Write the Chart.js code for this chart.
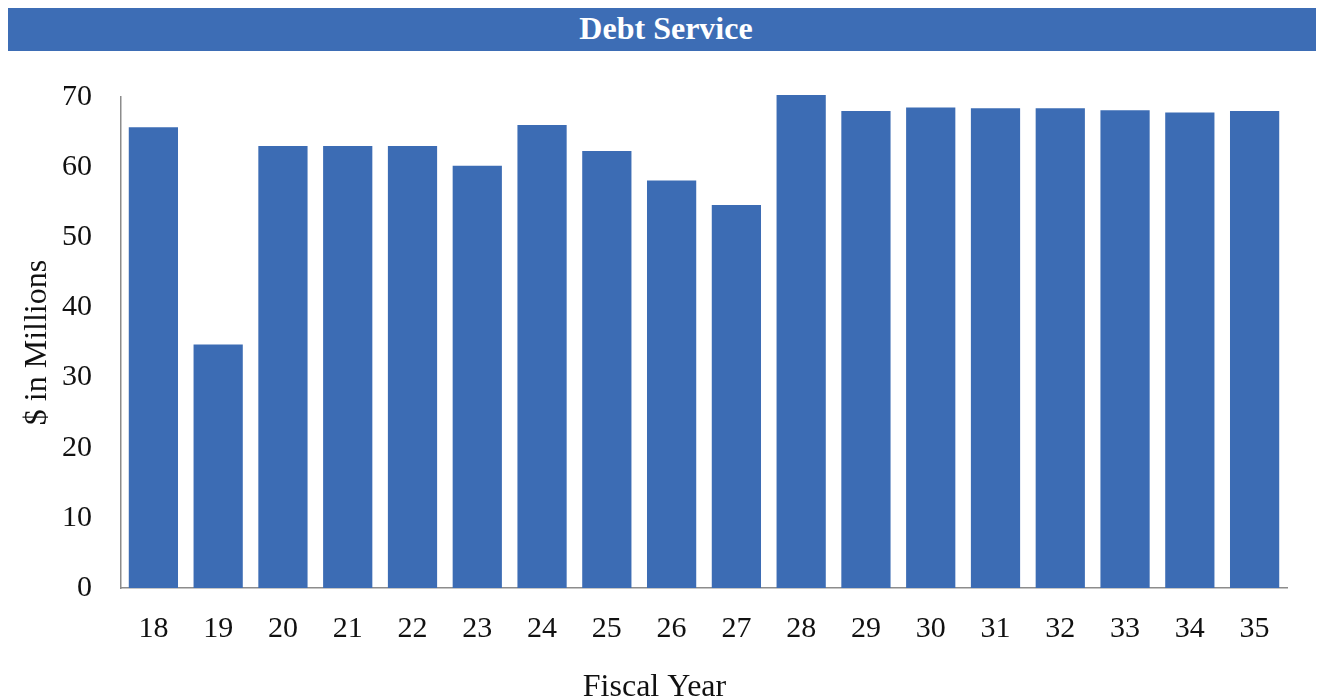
<!DOCTYPE html>
<html>
<head>
<meta charset="utf-8">
<script src="https://cdn.jsdelivr.net/npm/chart.js@4.4.0/dist/chart.umd.min.js"></script>
<style>
  html, body { margin: 0; padding: 0; background: #fff; overflow: hidden; }
  body { width: 1324px; height: 700px; position: relative; }
  #titleBar {
    position: absolute; left: 8px; top: 8px; width: 1308px; height: 43px;
    background: #3d6db5; color: #fff;
    font: bold 32px "Liberation Serif", "DejaVu Serif", serif;
    text-align: center; line-height: 41px; box-sizing: border-box; padding-left: 8px;
  }
  #chartBox { position: absolute; left: 0; top: 0; width: 1324px; height: 712px; }
</style>
</head>
<body>
<div id="titleBar">Debt Service</div>
<div id="chartBox"><canvas id="debtChart"></canvas></div>
<script>
// Debt service by fiscal year, $ in millions
const fiscalYears = ['18', '19', '20', '21', '22', '23', '24', '25', '26', '27', '28', '29', '30', '31', '32', '33', '34', '35'];
const debtService = [65.7, 34.7, 63.0, 63.0, 63.0, 60.2, 66.0, 62.3, 58.1, 54.6, 70.3, 68.0, 68.5, 68.4, 68.4, 68.1, 67.8, 68.0];
const yTicks = [0, 10, 20, 30, 40, 50, 60, 70];

const BAR_COLOR = '#3c6cb4';
const AXIS_COLOR = '#8c8c8c';
const TEXT_COLOR = '#111111';
const SERIF = '"Liberation Serif", "DejaVu Serif", serif';

const ctx = document.getElementById('debtChart');
new Chart(ctx, {
  type: 'bar',
  data: {
    labels: fiscalYears,
    datasets: [{
      label: 'Debt Service',
      data: debtService,
      backgroundColor: BAR_COLOR,
      borderWidth: 0,
      categoryPercentage: 1.0,
      barPercentage: 0.76,
      clip: false
    }]
  },
  options: {
    responsive: true,
    maintainAspectRatio: false,
    animation: false,
    layout: { padding: { top: 97, left: 22, right: 37, bottom: 0 } },
    plugins: {
      legend: { display: false },
      tooltip: { enabled: false },
      // x-axis caption is centred on the whole figure, not the plot area
      title: {
        display: true, position: 'bottom', text: 'Fiscal Year', color: TEXT_COLOR,
        font: { family: SERIF, size: 32, weight: 'normal', lineHeight: 1 },
        padding: { top: 0, bottom: 8 }
      }
    },
    scales: {
      x: {
        grid: { display: false, drawTicks: false },
        border: { display: true, color: AXIS_COLOR, width: 1.5 },
        ticks: { color: TEXT_COLOR, font: { family: SERIF, size: 30 }, padding: 23, maxRotation: 0 },
        afterFit: axis => { axis.height = 84; }
      },
      y: {
        min: 0,
        max: 70,
        afterBuildTicks: axis => { axis.ticks = yTicks.map(v => ({ value: v })); },
        grid: { display: false, drawTicks: false },
        border: { display: true, color: AXIS_COLOR, width: 1.5 },
        ticks: { color: TEXT_COLOR, font: { family: SERIF, size: 30 }, padding: 29 },
        title: {
          display: true, text: '$ in Millions', color: TEXT_COLOR,
          font: { family: SERIF, size: 32, lineHeight: 1 },
          padding: { top: 0, bottom: 0 }
        },
        afterFit: axis => { axis.width = 99; }
      }
    }
  }
});
</script>
</body>
</html>
